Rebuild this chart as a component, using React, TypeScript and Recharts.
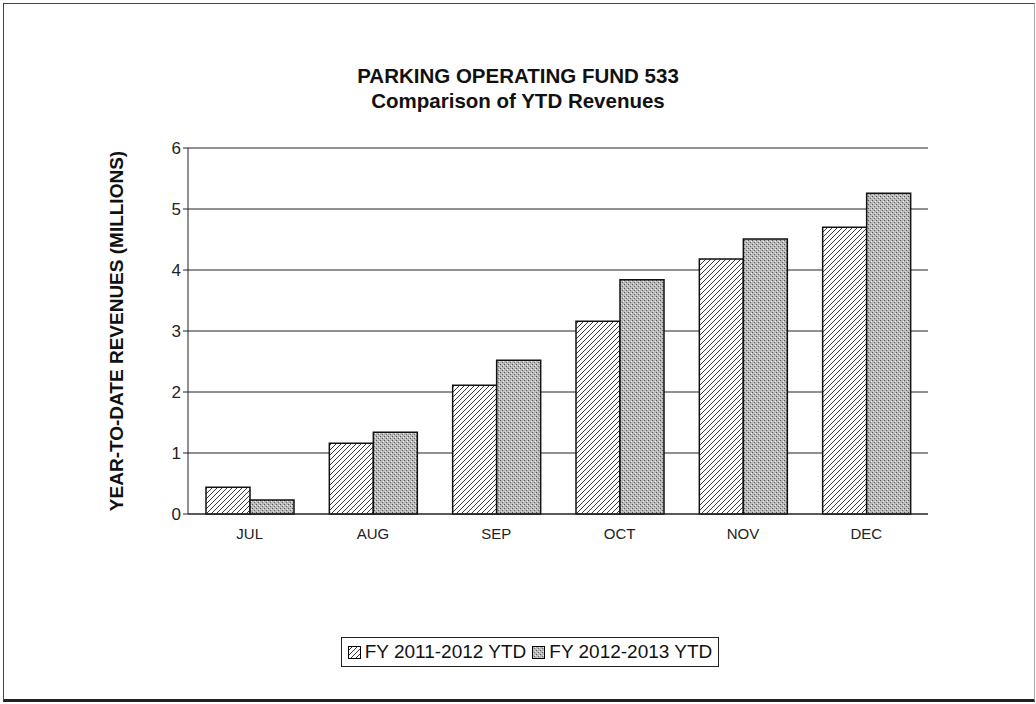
import React from "react";
import {
  BarChart,
  Bar,
  XAxis,
  YAxis,
  CartesianGrid,
  Legend,
} from "recharts";

const months = ["JUL", "AUG", "SEP", "OCT", "NOV", "DEC"];
const fy1112 = [0.44, 1.16, 2.11, 3.16, 4.18, 4.7];
const fy1213 = [0.23, 1.34, 2.52, 3.84, 4.51, 5.26];
const yTicks = [0, 1, 2, 3, 4, 5, 6];

const data = months.map((m, i) => ({
  month: m,
  prior: fy1112[i],
  current: fy1213[i],
}));

const FONT = "Arial, 'Liberation Sans', sans-serif";

function Swatch({ fill }: { fill: string }) {
  return (
    <svg width={13} height={13} style={{ marginRight: 4 }}>
      <rect x={0.5} y={0.5} width={12} height={12} fill={fill} stroke="#000" strokeWidth={1} />
    </svg>
  );
}

function LegendBox() {
  return (
    <div
      style={{
        display: "inline-flex",
        alignItems: "center",
        border: "1px solid #222",
        padding: "3px 6px",
        fontFamily: FONT,
        fontSize: 19,
        color: "#111",
        background: "#fff",
      }}
    >
      <Swatch fill="url(#hatch)" />
      <span style={{ marginRight: 6 }}>FY 2011-2012 YTD</span>
      <Swatch fill="url(#dots)" />
      <span>FY 2012-2013 YTD</span>
    </div>
  );
}

export default function App() {
  return (
    <div
      style={{
        position: "absolute",
        left: 0,
        top: 0,
        width: 1036,
        height: 704,
        background: "#fff",
      }}
    >
      <div
        style={{
          position: "absolute",
          left: 3,
          top: 3,
          width: 1030,
          height: 695,
          borderTop: "1px solid #444",
          borderLeft: "1px solid #444",
          borderRight: "1px solid #aaa",
          borderBottom: "3px solid #222",
        }}
      />
      <div
        style={{
          position: "absolute",
          left: 0,
          width: 1036,
          top: 63,
          textAlign: "center",
          fontFamily: FONT,
          fontWeight: "bold",
          fontSize: 20.5,
          lineHeight: "25px",
          color: "#111",
        }}
      >
        <div>PARKING OPERATING FUND 533</div>
        <div>Comparison of YTD Revenues</div>
      </div>
      <BarChart
        width={1036}
        height={704}
        data={data}
        margin={{ top: 148, right: 108, bottom: 130, left: 138 }}
        barCategoryGap={18}
        barGap={0}
        style={{ position: "absolute", left: 0, top: 0 }}
      >
        <defs>
          <pattern id="hatch" patternUnits="userSpaceOnUse" width={5} height={5}>
            <rect width={5} height={5} fill="#fff" />
            <path d="M-1,1 l2,-2 M0,5 l5,-5 M4,6 l2,-2" stroke="#222" strokeWidth={0.9} />
          </pattern>
          <pattern id="dots" patternUnits="userSpaceOnUse" width={4} height={4}>
            <rect width={4} height={4} fill="#b8b8b8" />
            <rect x={0} y={0} width={1} height={1} fill="#555" />
            <rect x={2} y={2} width={1} height={1} fill="#666" />
            <rect x={3} y={1} width={1} height={1} fill="#eee" />
            <rect x={1} y={3} width={1} height={1} fill="#ddd" />
          </pattern>
        </defs>
        <CartesianGrid vertical={false} stroke="#222" strokeWidth={1} />
        <XAxis
          dataKey="month"
          tickLine={false}
          axisLine={{ stroke: "#222" }}
          tick={{ fontSize: 15, fill: "#222", fontFamily: FONT }}
          tickMargin={8}
          height={30}
        />
        <YAxis
          domain={[0, 6]}
          ticks={yTicks}
          width={50}
          axisLine={{ stroke: "#222" }}
          tickLine={{ stroke: "#222" }}
          tickSize={5}
          tick={{ fontSize: 17, fill: "#222", fontFamily: FONT }}
          label={{
            value: "YEAR-TO-DATE REVENUES (MILLIONS)",
            angle: -90,
            position: "insideLeft",
            offset: -22,
            style: {
              textAnchor: "middle",
              fontFamily: FONT,
              fontWeight: "bold",
              fontSize: 19,
              fill: "#111",
            },
          }}
        />
        <YAxis
          yAxisId="right"
          orientation="right"
          domain={[0, 6]}
          width={0}
          tick={false}
          tickLine={false}
          axisLine={{ stroke: "#888", strokeDasharray: "2 1" }}
        />
        <Legend
          verticalAlign="bottom"
          align="center"
          content={() => <LegendBox />}
          wrapperStyle={{
            top: 637,
            left: 12,
            width: 1036,
            textAlign: "center",
            bottom: "auto",
          }}
        />
        <Bar
          dataKey="prior"
          name="FY 2011-2012 YTD"
          fill="url(#hatch)"
          stroke="#111"
          strokeWidth={1.5}
          isAnimationActive={false}
        />
        <Bar
          dataKey="current"
          name="FY 2012-2013 YTD"
          fill="url(#dots)"
          stroke="#111"
          strokeWidth={1.5}
          isAnimationActive={false}
        />
      </BarChart>
    </div>
  );
}
